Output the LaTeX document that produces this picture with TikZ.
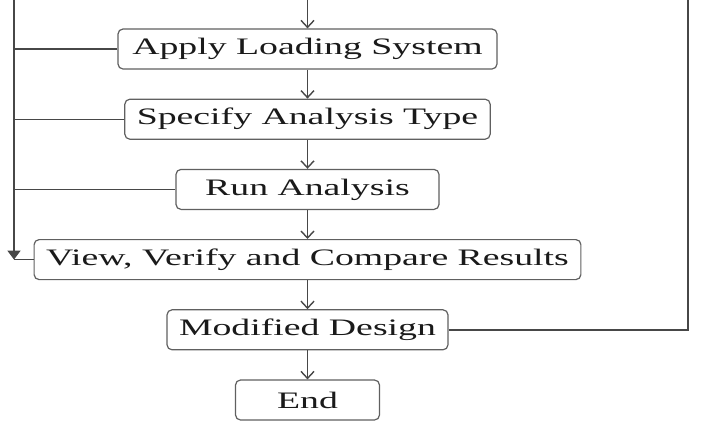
\documentclass[tikz,border=0pt]{standalone}
\usepackage{fontspec}
\setmainfont[FakeStretch=1.6]{Liberation Serif}
\usetikzlibrary{arrows.meta, positioning}
\definecolor{inkcolor}{HTML}{1A1A1A}
\definecolor{linecolor}{HTML}{474747}
\definecolor{boxline}{HTML}{606060}

\begin{document}
\begin{tikzpicture}[
  x=1pt, y=1pt,
  every node/.style={font=\fontsize{11.8}{13}\selectfont, text=inkcolor},
  node distance=14.5pt,
]

\tikzset{
  stepbox/.style={rectangle, rounded corners=2.5pt, draw=boxline, line width=0.6pt,
    fill=white, minimum height=20pt, inner xsep=6pt, inner ysep=0pt},
  flowline/.style={-{Straight Barb[length=3.5pt, width=6.5pt]}, linecolor, line width=0.7pt},
  sideline/.style={linecolor, line width=0.7pt},
  feedline/.style={-{Triangle[length=4.5pt, width=6.5pt]}, linecolor, line width=0.7pt},
}

\useasboundingbox (0,0) rectangle (353,210);

% ---------------------------------------------------------------
% main column
% ---------------------------------------------------------------
\node[stepbox, minimum width=189.5pt]                   (apply)    at (153.75,185.5) {Apply Loading System};
\node[stepbox, minimum width=178.5pt, below=of apply]   (specify)  {Specify Analysis Type};
\node[stepbox, minimum width=131.5pt, below=of specify] (run)      {Run Analysis};
\node[stepbox, minimum width=271.5pt, below=of run]     (view)     {View, Verify and Compare Results};
\node[stepbox, minimum width=138.5pt, below=of view]    (modified) {Modified Design};
\node[stepbox, minimum width=72pt,    below=of modified](stop)     {End};

% lanes entering from above
\coordinate (topIn)    at (153.75,210);
\coordinate (leftTop)  at (7,210);
\coordinate (rightTop) at (344,210);

% Main flow
\draw[flowline] (topIn) -- (apply.north);
\draw[flowline] (apply) -- (specify);
\draw[flowline] (specify) -- (run);
\draw[flowline] (run) -- (view);
\draw[flowline] (view) -- (modified);
\draw[flowline] (modified) -- (stop);

% Left lane -- steps feeding the result check
\draw[sideline] (apply.west) -- (apply.west -| leftTop);
\draw[sideline] (specify.west) -- (specify.west -| leftTop);
\draw[sideline] (run.west) -- (run.west -| leftTop);
\draw[feedline] (leftTop) -- (leftTop |- view.west);
\draw[sideline] (leftTop |- view.west) -- (view.west);

% Right lane -- modified design goes back up
\draw[sideline] (modified.east) -| (rightTop);

\end{tikzpicture}
\end{document}
